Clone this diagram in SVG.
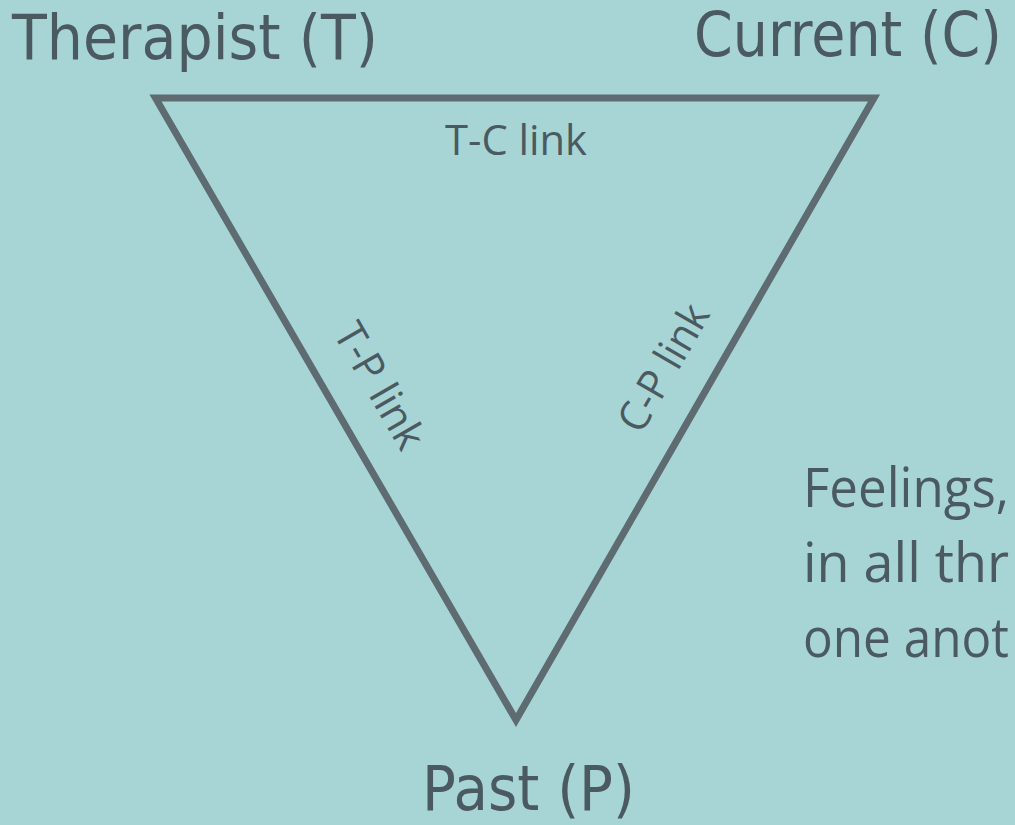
<svg xmlns="http://www.w3.org/2000/svg" width="1015" height="825" viewBox="0 0 1015 825">
<style>
.big{font-family:"DejaVu Sans","Liberation Sans",sans-serif;font-size:63px;fill:#4b5a61}
.lbl{font-family:"Open Sans","Noto Sans",sans-serif;font-size:42px;fill:#4b5a61}
.body{font-family:"Open Sans","Noto Sans",sans-serif;font-size:55px;fill:#4b5a61}
.edge{fill:none;stroke:#5e6b71;stroke-width:7;stroke-linejoin:miter;stroke-miterlimit:10}
</style>
<rect width="1015" height="825" fill="#a7d5d6"/>
<g id="connectors">
<polygon class="edge" points="155.5,98 874,98 516,720"/>
<text class="lbl" x="516" y="155" text-anchor="middle" textLength="142" lengthAdjust="spacingAndGlyphs">T-C link</text>
<text class="lbl" transform="translate(367,393) rotate(60)" text-anchor="middle" textLength="138" lengthAdjust="spacingAndGlyphs">T-P link</text>
<text class="lbl" transform="translate(676,375) rotate(-60)" text-anchor="middle" textLength="140" lengthAdjust="spacingAndGlyphs">C-P link</text>
</g>
<g id="node-therapist">
<text class="big" x="12" y="59" textLength="366" lengthAdjust="spacingAndGlyphs">Therapist (T)</text>
</g>
<g id="node-current">
<text class="big" x="694" y="56" textLength="308" lengthAdjust="spacingAndGlyphs">Current (C)</text>
</g>
<g id="node-past">
<text class="big" x="422" y="810" textLength="213" lengthAdjust="spacingAndGlyphs">Past (P)</text>
</g>
<g id="note">
<text class="body" x="803" y="507" textLength="206" lengthAdjust="spacingAndGlyphs">Feelings,</text>
<text class="body" x="803" y="582" textLength="206" lengthAdjust="spacingAndGlyphs">in all thr</text>
<text class="body" x="803" y="657" textLength="206" lengthAdjust="spacingAndGlyphs">one anot</text>
</g>
</svg>
